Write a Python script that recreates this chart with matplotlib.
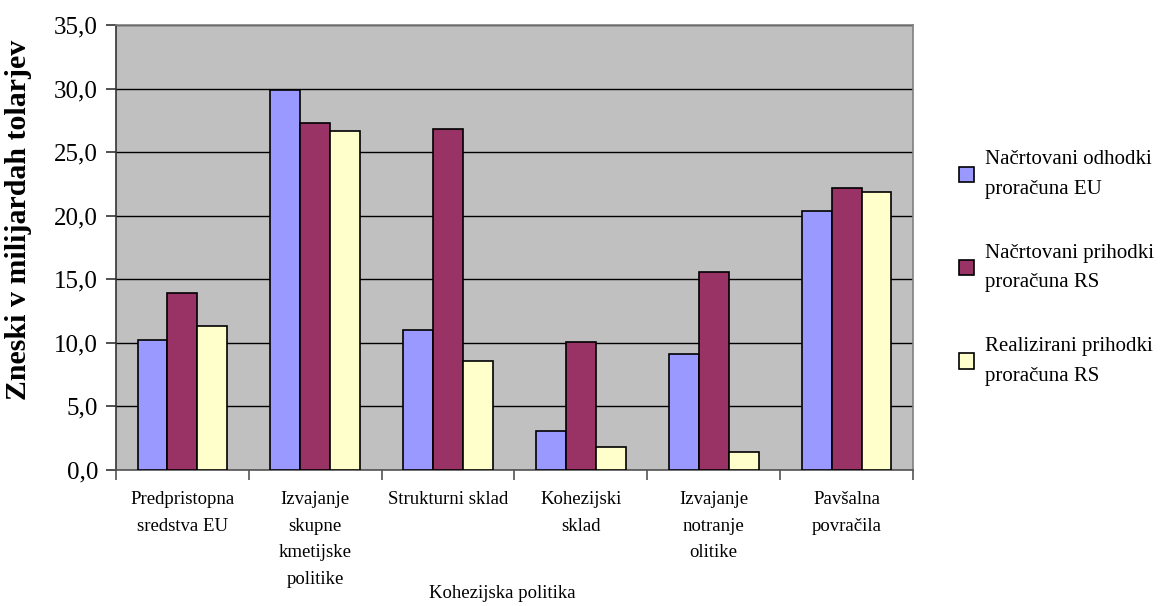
import matplotlib
matplotlib.use("Agg")
import matplotlib.pyplot as plt
import numpy as np

categories = ["Predpristopna\nsredstva EU", "Izvajanje\nskupne\nkmetijske\npolitike",
              "Strukturni sklad", "Kohezijski\nsklad", "Izvajanje\nnotranje\nolitike",
              "Pavšalna\npovračila"]
series_names = ["Načrtovani odhodki\nproračuna EU", "Načrtovani prihodki\nproračuna RS",
                "Realizirani prihodki\nproračuna RS"]
odhodki_eu = [10.2, 29.9, 11.0, 3.1, 9.1, 20.4]
prihodki_rs = [13.9, 27.3, 26.8, 10.1, 15.6, 22.2]
realizirani_rs = [11.3, 26.7, 8.6, 1.8, 1.45, 21.9]
yticks = [0, 5, 10, 15, 20, 25, 30, 35]
ytick_labels = ["0,0", "5,0", "10,0", "15,0", "20,0", "25,0", "30,0", "35,0"]

colors = ["#9999FF", "#993366", "#FFFFCC"]
plt.rcParams['font.family'] = ['Liberation Serif', 'DejaVu Serif']

fig = plt.figure(figsize=(11.65, 6.06), dpi=100)
ax = fig.add_axes([116/1165, 1-470/606, (913-116)/1165, (470-25)/606])
ax.set_facecolor("#C0C0C0")

x = np.arange(len(categories))
w = 0.225
data = [odhodki_eu, prihodki_rs, realizirani_rs]
for i, (vals, c, name) in enumerate(zip(data, colors, series_names)):
    ax.bar(x + (i - 1) * w, vals, width=w, color=c, edgecolor="black", linewidth=1.2,
           label=name, zorder=3)

ax.set_xlim(-0.5, len(categories) - 0.5)
ax.set_ylim(0, 35)
ax.set_yticks(yticks)
ax.set_yticklabels(ytick_labels, fontsize=18)
ax.yaxis.grid(True, color="black", linewidth=1.0, zorder=1)
ax.set_axisbelow(True)

ax.set_xticks(x)
ax.set_xticklabels(categories, fontsize=13.5, linespacing=1.75, va="top")
ax.tick_params(axis="x", which="major", length=0, pad=15)
ax.set_xticks(np.arange(-0.5, len(categories), 1.0), minor=True)
ax.tick_params(axis="x", which="minor", length=7, width=1.2, color="#555555", direction="out")
ax.tick_params(axis="y", length=7, width=1.2, color="#333333", direction="out", pad=6)

for s in ["top", "right"]:
    ax.spines[s].set_color("#808080")
ax.spines["left"].set_color("#333333")
ax.spines["bottom"].set_color("#555555")
for s in ax.spines.values():
    s.set_linewidth(1.2)

ax.set_ylabel("Zneski v milijardah tolarjev", fontsize=21.5, fontweight="bold")
ax.yaxis.set_label_coords((32-116)/797, (470-220)/445)
fig.text(502/1165, 1-594/606, "Kohezijska politika", fontsize=13.5, ha="center", va="center")

leg = fig.legend(loc="center left", bbox_to_anchor=(940/1165, 1-268/606), frameon=False,
                 fontsize=15, handlelength=0.75, handleheight=0.75, handletextpad=0.5,
                 labelspacing=2.15)
for t in leg.get_texts():
    t.set_linespacing(1.75)

fig.savefig("out.png", dpi=100, facecolor="white")
